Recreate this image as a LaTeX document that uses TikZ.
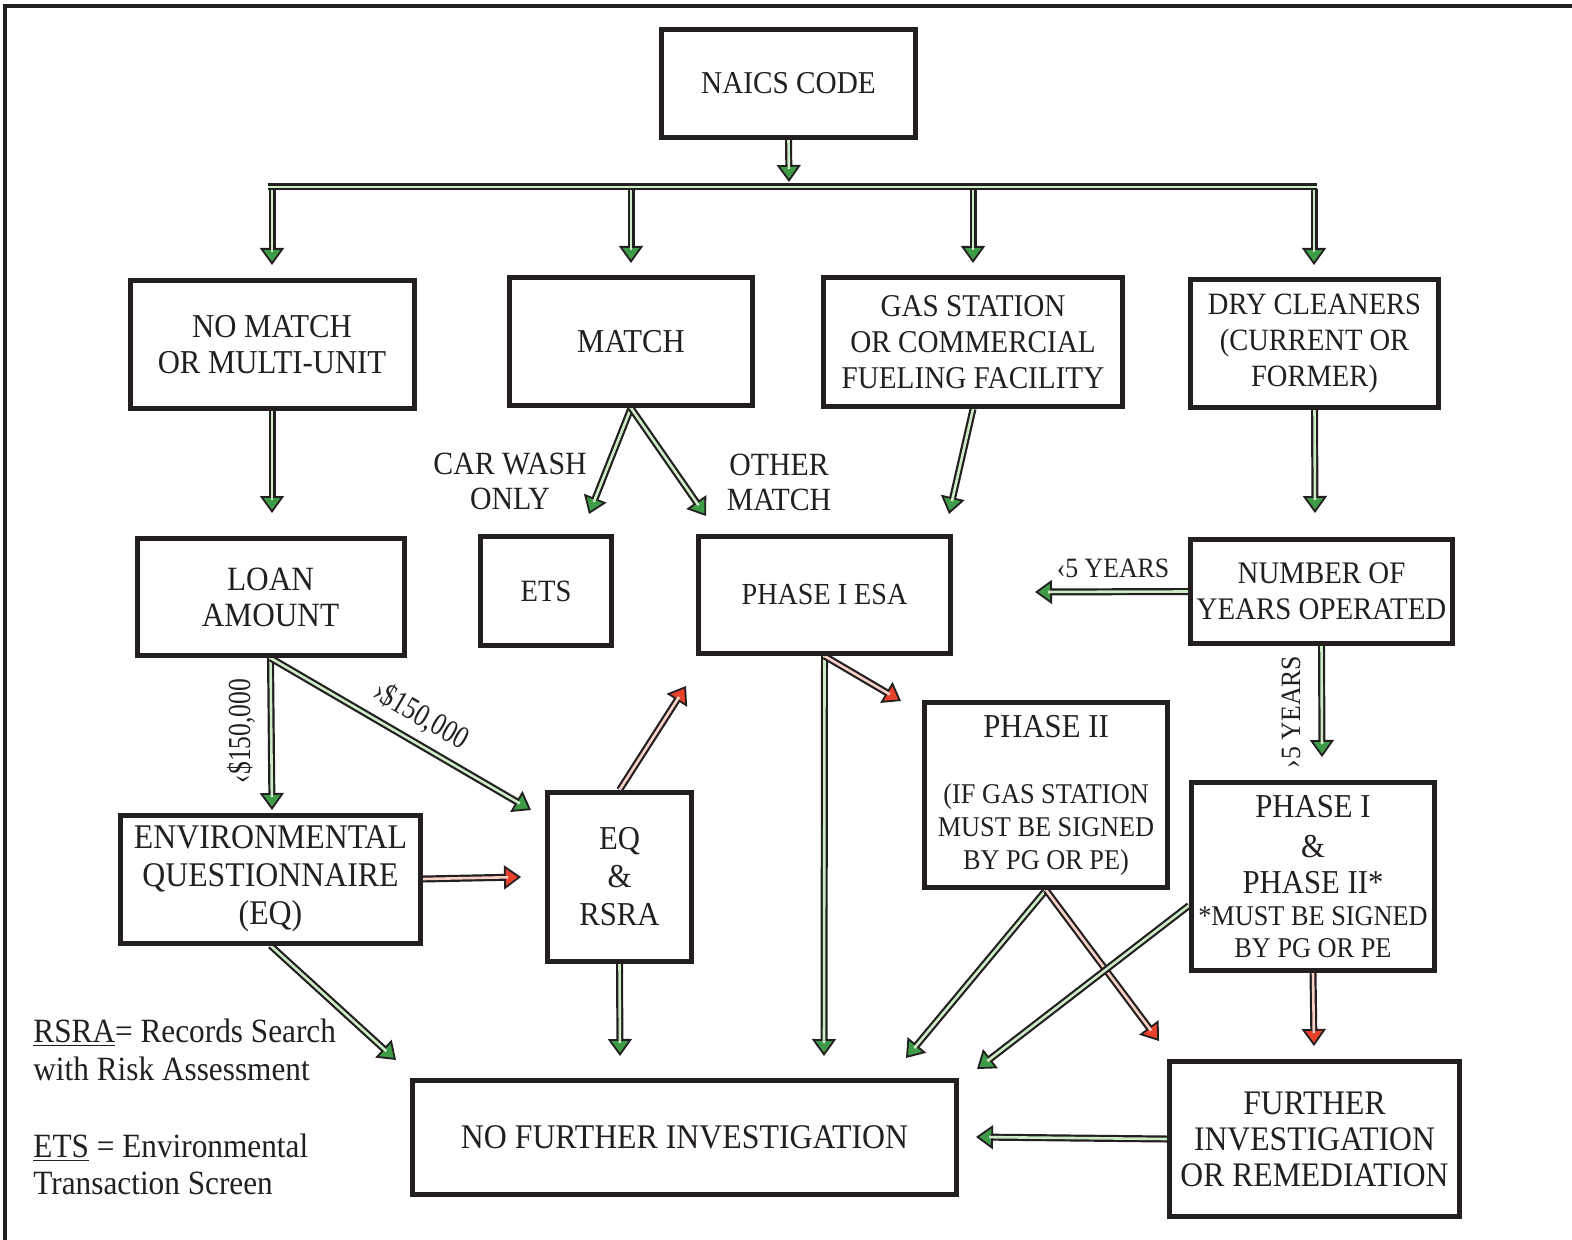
\documentclass[tikz,border=0pt]{standalone}
\usepackage{fontspec}
\setmainfont{Liberation Serif}[FakeStretch=0.92]
\newfontfamily\condf{Liberation Serif}[FakeStretch=0.8]
\usetikzlibrary{arrows.meta,calc}
\definecolor{ink}{HTML}{231F20}
\definecolor{ag}{HTML}{3E9B47}
\definecolor{agl}{HTML}{CDEBC6}
\definecolor{ar}{HTML}{E8412C}
\definecolor{arl}{HTML}{F9D0C8}
\newcommand\fs[1]{\fontsize{#1}{18}\selectfont}
\newcommand\fsmall{\fontsize{14.3}{16.5}\selectfont}
\newcommand\flab{\condf\fontsize{16}{17}\selectfont}
\newcommand\fyr{\fontsize{14}{16}\selectfont}
\newcommand\fleg{\fontsize{17}{19}\selectfont}
\pgfdeclarelayer{bg}
\pgfsetlayers{bg,main}
\tikzset{
  box/.style={draw=ink, line width=2.5pt, fill=white, align=center, inner sep=0pt, font=\fs{16.7}, text=ink},
  sz/.style 2 args={minimum width=#1pt, minimum height=#2pt},
  fsz/.style={font=\fs{#1}},
  garr/.style={draw=ink, line width=3.5pt, -{Triangle[length=8.5pt,width=12pt,fill=ag,color=ink,line width=0.9pt]},
     postaction={draw=agl, line width=1.3pt, -, shorten >=6.5pt}},
  rarr/.style={draw=ink, line width=3.5pt, -{Triangle[length=8.5pt,width=12pt,fill=ar,color=ink,line width=0.9pt]},
     postaction={draw=arl, line width=1.3pt, -, shorten >=6.5pt}},
  gbar/.style={draw=ink, line width=3.5pt, postaction={draw=agl, line width=1.3pt}},
  lab/.style={align=center, inner sep=0pt, text=ink, font=\fontsize{16.2}{17.5}\selectfont},
  yr/.style={inner sep=0pt, text=ink, font=\fyr},
  money/.style={inner sep=0pt, text=ink, font=\flab},
  leg/.style={inner sep=0pt, text=ink, font=\fleg},
}
\begin{document}
\begin{tikzpicture}[x=0.5pt,y=-0.5pt]
\useasboundingbox (0,0) rectangle (1572,1240);
\draw[ink, line width=2pt] (5,1260) -- (5,6) -- (1600,6);

% boxes
\node[box, fsz=15.9, sz={127}{54}] (naics) at (788.5,83.5) {NAICS CODE};
\node[box, sz={142}{64}] (nomatch) at (272,345) {NO MATCH\\OR MULTI-UNIT};
\node[box, sz={121.5}{64}] (match) at (631,341.5) {MATCH};
\node[box, fsz=15.85, sz={149.5}{64.5}] (gas) at (973,342) {GAS STATION\\OR COMMERCIAL\\FUELING FACILITY};
\node[box, fsz=15.5, sz={124}{64}] (dry) at (1314.5,343.5) {DRY CLEANERS\\(CURRENT OR\\FORMER)};
\node[box, fsz=17, sz={133.5}{58.5}] (loan) at (270.5,597) {LOAN\\AMOUNT};
\node[box, fsz=15.5, sz={65.5}{54.5}] (ets) at (546,591) {ETS};
\node[box, fsz=15.3, sz={126}{58.5}] (esa) at (824.5,595) {PHASE I ESA};
\node[box, fsz=15.7, sz={131}{52}] (num) at (1321.5,591.5) {NUMBER OF\\YEARS OPERATED};
\node[box, sz={121.5}{92.5}] (ph2) at (1046,795) {PHASE II\\[15pt]{\fsmall (IF GAS STATION}\\[-1.5pt]{\fsmall MUST BE SIGNED}\\[-1.5pt]{\fsmall BY PG OR PE)}};
\node[box, sz={121.5}{94}] (ph12) at (1313,876.5) {PHASE I\\[2pt]\&\\PHASE II*\\[-1.75pt]{\fsmall *MUST BE SIGNED}\\[-2pt]{\fsmall BY PG OR PE}};
\node[box, fsz=17.3, sz={150}{64}] (env) at (270.5,879) {ENVIRONMENTAL\\[1pt]QUESTIONNAIRE\\[1pt](EQ)};
\node[box, sz={72}{84.5}] (eq) at (619.5,877) {EQ\\[1pt]\&\\[1pt]RSRA};
\node[box, fsz=17.3, sz={272}{57}] (nfi) at (684.5,1137.5) {NO FURTHER INVESTIGATION};
\node[box, fsz=17.2, sz={145}{77.5}] (fur) at (1314.5,1139) {FURTHER\\INVESTIGATION\\OR REMEDIATION};

% labels
\node[lab] (lcar) at (510,481) {CAR WASH\\ONLY};
\node[lab] (loth) at (779,482) {OTHER\\MATCH};
\node[yr] (llt5) at (1113,568) {‹5 YEARS};
\node[yr, rotate=90] (lgt5) at (1291,712) {›5 YEARS};
\node[money, rotate=90] (llow) at (241,731) {‹\$150,000};
\node[money, rotate=-30.2] (lhigh) at (421,716) {›\$150,000};

% legend
\node[leg, anchor=base west] (g1) at (33,1042) {\underline{RSRA}= Records Search};
\node[leg, anchor=base west] (g2) at (33,1080) {with Risk Assessment};
\node[leg, anchor=base west] (g3) at (33,1157) {\underline{ETS} = Environmental};
\node[leg, anchor=base west] (g4) at (33,1194) {Transaction Screen};

% coordinates
\coordinate (barL) at (268,187);
\coordinate (barR) at (1317,187);
\coordinate (tNa) at (789,182);
\coordinate (d1) at (272,189);
\coordinate (d2) at (631,189);
\coordinate (d3) at (973,189);
\coordinate (d4) at (1314,189);
\coordinate (t1) at (272,265);
\coordinate (t2) at (631,263);
\coordinate (t3) at (973,263);
\coordinate (t4) at (1314,265);
\coordinate (tNoM) at (272,513);
\coordinate (tCar) at (589,514);
\coordinate (tOth) at (706,516);
\coordinate (tGas) at (949,514);
\coordinate (tDry) at (1315,513);
\coordinate (tLt5) at (1035,592);
\coordinate (tGt5) at (1322,757);
\coordinate (tLow) at (272,810);
\coordinate (tHigh) at (531,810);
\coordinate (tEnvR) at (521,877);
\coordinate (tEqUp) at (686,686);
\coordinate (tEqDn) at (620,1056);
\coordinate (tEsaDn) at (824,1056);
\coordinate (tEsaR) at (901,701);
\coordinate (tEnvD) at (396,1060);
\coordinate (tPh2G) at (906,1058);
\coordinate (tPh2R) at (1159,1041);
\coordinate (tPh12G) at (977,1069);
\coordinate (tPh12R) at (1314,1046);
\coordinate (tFur) at (976,1137);

\begin{pgfonlayer}{bg}
\draw[garr] (naics.south) -- (tNa);
\draw[garr] (d1) -- (t1);
\draw[garr] (d2) -- (t2);
\draw[garr] (d3) -- (t3);
\draw[garr] (d4) -- (t4);
\draw[gbar] (barL) -- (barR);
\draw[garr] (nomatch.south) -- (tNoM);
\draw[garr] (match.south) -- (tCar);
\draw[garr] (match.south) -- (tOth);
\draw[garr] (gas.south) -- (tGas);
\draw[garr] (dry.south) -- (tDry);
\draw[garr] (num.west) -- (tLt5);
\draw[garr] (num.south) -- (tGt5);
\draw[garr] (loan.south) -- (tLow);
\draw[garr] (loan.south) -- (tHigh);
\draw[rarr] (env.east) -- (tEnvR);
\draw[rarr] (eq.north) -- (tEqUp);
\draw[garr] (eq.south) -- (tEqDn);
\draw[garr] (esa.south) -- (tEsaDn);
\draw[rarr] (esa.south) -- (tEsaR);
\draw[garr] (env.south) -- (tEnvD);
\draw[garr] (ph2.south) -- (tPh2G);
\draw[rarr] (ph2.south) -- (tPh2R);
\draw[garr] ([yshift=-14.5pt]ph12.west) -- (tPh12G);
\draw[rarr] (ph12.south) -- (tPh12R);
\draw[garr] (fur.west) -- (tFur);
\end{pgfonlayer}
\end{tikzpicture}
\end{document}
